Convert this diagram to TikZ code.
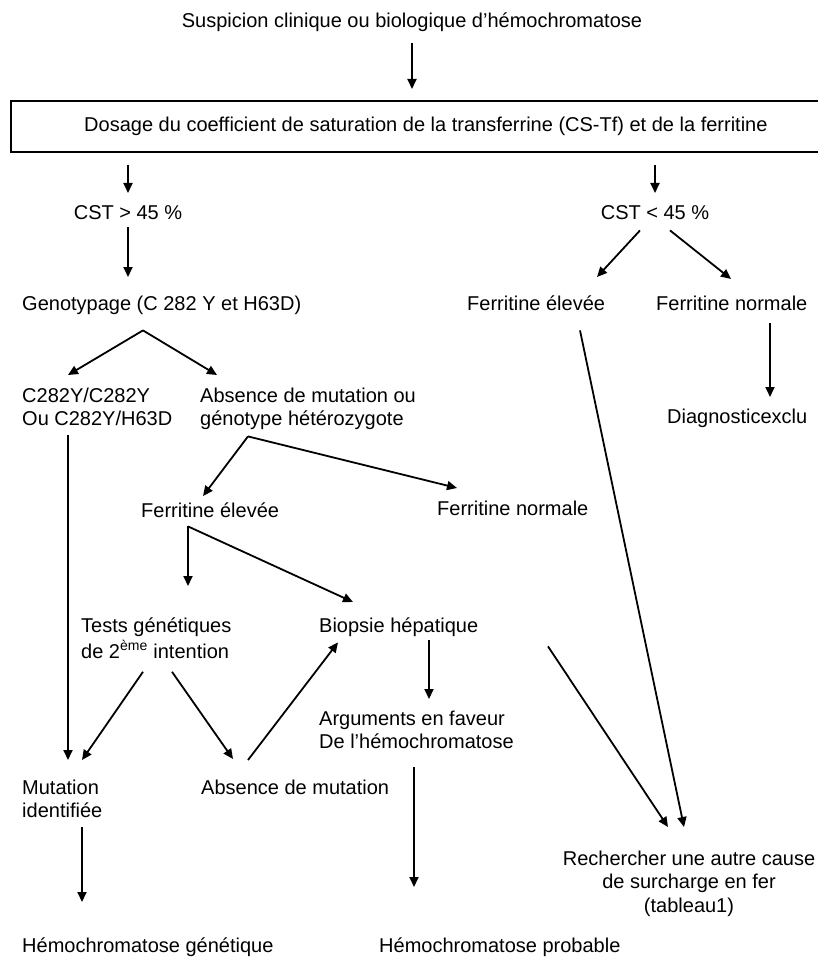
\documentclass[tikz,border=0pt]{standalone}
\usepackage{fontspec}
\setmainfont{Liberation Sans}
\usetikzlibrary{arrows.meta,calc}
\begin{document}
\begin{tikzpicture}[x=1pt,y=-1pt,
  txt/.style={inner sep=0pt, font=\fontsize{20}{23.5}\selectfont, align=left},
  ctxt/.style={txt, align=center},
  arr/.style={line width=1.8pt, -{Triangle[length=10pt,width=9pt]}},
  ln/.style={line width=1.8pt}]
\useasboundingbox (0,0) rectangle (818,960);
% nodes
\node[ctxt, anchor=north] (susp) at (412,10.5) {\strut Suspicion clinique ou biologique d’hémochromatose};
\node[ctxt, draw, line width=1.8pt, anchor=north west, minimum width=830pt, minimum height=51pt] (dos) at (10,100)
  {\strut Dosage du coefficient de saturation de la transferrine (CS-Tf) et de la ferritine};
\node[ctxt, anchor=north] (cstA) at (128,202.5) {\strut CST > 45 \%};
\node[ctxt, anchor=north] (cstB) at (655,202.5) {\strut CST < 45 \%};
\node[txt, anchor=north west] (geno) at (22,293.5) {\strut Genotypage (C 282 Y et H63D)};
\node[txt, anchor=north west] (c282) at (22,385.5) {\strut C282Y/C282Y\\\strut Ou C282Y/H63D};
\node[txt, anchor=north west] (absA) at (200,385.5) {\strut Absence de mutation ou\\\strut génotype hétérozygote};
\node[txt, anchor=north west] (ferEA) at (141,500.5) {\strut Ferritine élevée};
\node[txt, anchor=north west] (ferNA) at (437,498.5) {\strut Ferritine normale};
\node[txt, anchor=north west] (tests) at (81,615.5) {\strut Tests génétiques\\\strut de 2\textsuperscript{ème} intention};
\node[txt, anchor=north west] (biop) at (319,615.5) {\strut Biopsie hépatique};
\node[txt, anchor=north west] (args) at (319,708.5) {\strut Arguments en faveur\\\strut De l’hémochromatose};
\node[txt, anchor=north west] (mutI) at (22,777.5) {\strut Mutation\\\strut identifiée};
\node[txt, anchor=north west] (absM) at (201,777.5) {\strut Absence de mutation};
\node[txt, anchor=north west] (hemG) at (22,935.5) {\strut Hémochromatose génétique};
\node[txt, anchor=north west] (hemP) at (379,936) {\strut Hémochromatose probable};
\node[txt, anchor=north west] (ferEB) at (467,293.5) {\strut Ferritine élevée};
\node[txt, anchor=north west] (ferNB) at (656,293.5) {\strut Ferritine normale};
\node[txt, anchor=north west] (diag) at (667,407) {\strut Diagnosticexclu};
\node[ctxt, anchor=north] (rech) at (689,848.5) {\strut Rechercher une autre cause\\\strut de surcharge en fer\\\strut (tableau1)};
% connectors
\draw[arr] ($(susp.south)+(0,9)$) -- ($(dos.north west)+(402,-11)$);
\draw[arr] ($(dos.south west)+(118,12)$) -- ($(cstA.north)+(0,-9.5)$);
\draw[arr] ($(dos.south west)+(645,12)$) -- ($(cstB.north)+(0,-9.5)$);
\draw[arr] ($(cstA.south)+(0,1)$) -- ($(geno.north west)+(106,-16.5)$);
\draw[arr] ($(geno.south west)+(121,13)$) -- ($(c282.north west)+(46,-10.5)$);
\draw[arr] ($(geno.south west)+(121,13)$) -- ($(absA.north west)+(17,-10.5)$);
\draw[arr] ($(c282.south west)+(46,2.5)$) -- ($(mutI.north west)+(46,-17.5)$);
\draw[arr] ($(absA.south west)+(48,3.5)$) -- ($(ferEA.north west)+(62,-4.5)$);
\draw[arr] ($(absA.south west)+(48,3.5)$) -- ($(ferNA.north west)+(20,-10.5)$);
\draw[arr] ($(ferEA.south west)+(47,2)$) -- ($(tests.north west)+(107,-29.5)$);
\draw[arr] ($(ferEA.south west)+(47,2)$) -- ($(biop.north west)+(34,-13.5)$);
\draw[arr] ($(tests.south west)+(62,6.5)$) -- ($(mutI.north west)+(60,-17.5)$);
\draw[arr] ($(tests.south west)+(91,6.5)$) -- ($(absM.north west)+(32,-18.5)$);
\draw[arr] ($(absM.north west)+(47,-17.5)$) -- ($(biop.south west)+(19,3)$);
\draw[arr] ($(biop.south west)+(110,1)$) -- ($(args.north west)+(110,-9.5)$);
\draw[arr] ($(args.south west)+(95,11.5)$) -- ($(hemP.north west)+(35,-49)$);
\draw[arr] ($(mutI.south west)+(60,2.5)$) -- ($(hemG.north west)+(60,-33.5)$);
\draw[arr] ($(cstB.south)+(-15,4)$) -- ($(ferEB.north west)+(130,-16.5)$);
\draw[arr] ($(cstB.south)+(15,4)$) -- ($(ferNB.north west)+(75,-14.5)$);
\draw[arr] ($(ferNB.south west)+(114,6)$) -- ($(diag.north west)+(103,-10)$);
\draw[arr] ($(ferEB.south west)+(113,13)$) -- ($(rech.north)+(-5,-21.5)$);
\draw[arr] ($(ferNA.south west)+(111,124)$) -- ($(rech.north)+(-21,-21.5)$);
\end{tikzpicture}
\end{document}
